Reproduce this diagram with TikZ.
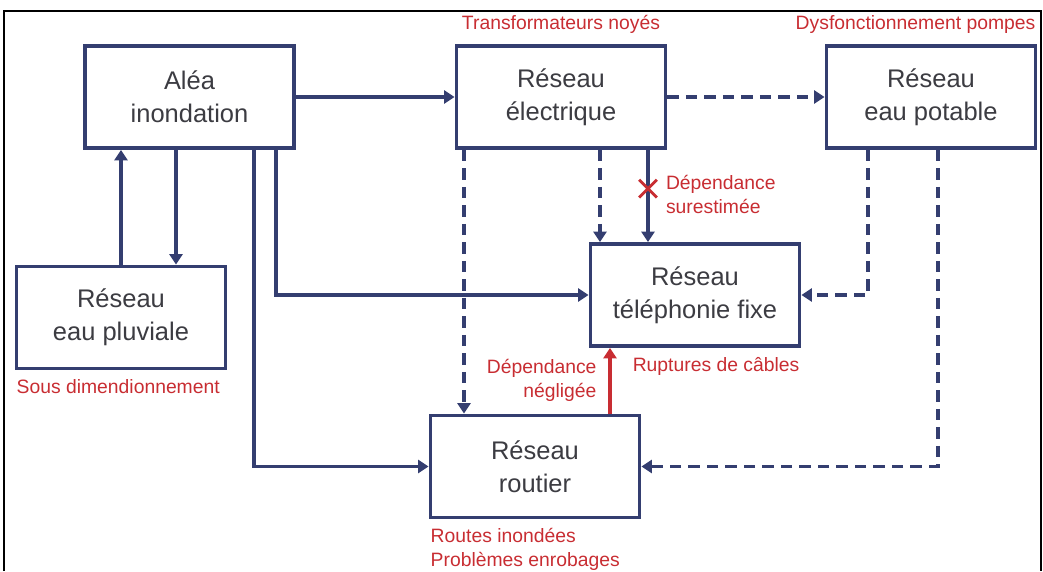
\documentclass[tikz,border=0pt]{standalone}
\usepackage{fontspec}
\setmainfont{Liberation Sans}
\usepackage{tikz}
\usetikzlibrary{shapes,arrows.meta,positioning,calc}
\definecolor{linkblue}{RGB}{52, 62, 112}
\definecolor{labelred}{RGB}{200, 45, 50}
\definecolor{boxtext}{RGB}{60, 60, 66}

\begin{document}
\begin{tikzpicture}[
    box/.style={draw=linkblue, line width=2.2pt, fill=white, text=boxtext, align=center,
        minimum width=4.18cm, minimum height=2.04cm, font=\fontsize{14.5}{18.8}\selectfont},
    link/.style={-{Triangle[length=0.21cm, width=0.26cm]}, line width=2pt, draw=linkblue},
    weak/.style={link, dash pattern=on 0.23cm off 0.14cm},
    redtxt/.style={text=labelred, inner sep=1pt, font=\fontsize{11}{13.6}\selectfont}]

    \useasboundingbox (0,0) rectangle (20.86,11.42);
    % Frame
    \draw[black, line width=0.6pt] (0.08,0) -- (0.08,11.2) -- (20.82,11.2) -- (20.82,0);

    % Networks
    \node[box] (alea) at (3.79, 9.48) {Aléa\\inondation};
    \node[box] (elec) at (11.22, 9.48) {Réseau\\électrique};
    \node[box] (potable) at (18.62, 9.48) {Réseau\\eau potable};
    \node[box] (tel) at (13.90, 5.52) {Réseau\\téléphonie fixe};
    \node[box] (pluv) at (2.42, 5.07) {Réseau\\eau pluviale};
    \node[box] (routier) at (10.70, 2.09) {Réseau\\routier};

    % Failures
    \node[redtxt, above=0.16cm of elec] (noyes) {Transformateurs noyés};
    \node[redtxt, anchor=south east] (pompes) at ([yshift=0.16cm]potable.north east) {Dysfonctionnement pompes};
    \node[redtxt, anchor=north east] (cables) at ([yshift=-0.14cm]tel.south east) {Ruptures de câbles};
    \node[redtxt, anchor=north west] (sousdim) at ([yshift=-0.14cm]pluv.south west) {Sous dimendionnement};
    \node[redtxt, anchor=north west, align=left] (routes) at ([yshift=-0.14cm]routier.south west) {Routes inondées\\Problèmes enrobages};

    % Arrows
    \draw[link] (alea.east) -- (elec.west);
    \draw[weak] (elec.east) -- (potable.west);
    \draw[link] (pluv.north) -- (pluv.north |- alea.south);
    \draw[link] ([xshift=-0.27cm]alea.south) -- ([xshift=-0.27cm]alea.south |- pluv.north);
    \draw[link] ([xshift=1.73cm]alea.south) |- (tel.west);
    \draw[link] ([xshift=1.29cm]alea.south) |- (routier.west);
    \draw[weak] ([xshift=-1.94cm]elec.south) -- ([xshift=-1.94cm]elec.south |- routier.north);
    \draw[weak] ([xshift=0.78cm]elec.south) -- ([xshift=0.78cm]elec.south |- tel.north);
    \draw[link] ([xshift=1.74cm]elec.south) -- node[pos=0.42, cross out, draw=labelred, line width=1.6pt,
        minimum size=0.3cm, inner sep=0pt] (xmark) {} ([xshift=1.74cm]elec.south |- tel.north);
    \node[redtxt, align=left, right=0.14cm of xmark, yshift=-0.12cm] (surest) {Dépendance\\surestimée};
    \draw[weak] ([xshift=-1.26cm]potable.south) |- (tel.east);
    \draw[weak] ([xshift=0.14cm]potable.south) |- (routier.east);
    \draw[link, draw=labelred] ([xshift=1.5cm]routier.north) -- node[redtxt, align=right, left=0.2cm] (neglig)
        {Dépendance\\négligée} ([xshift=1.5cm]routier.north |- tel.south);
\end{tikzpicture}
\end{document}
